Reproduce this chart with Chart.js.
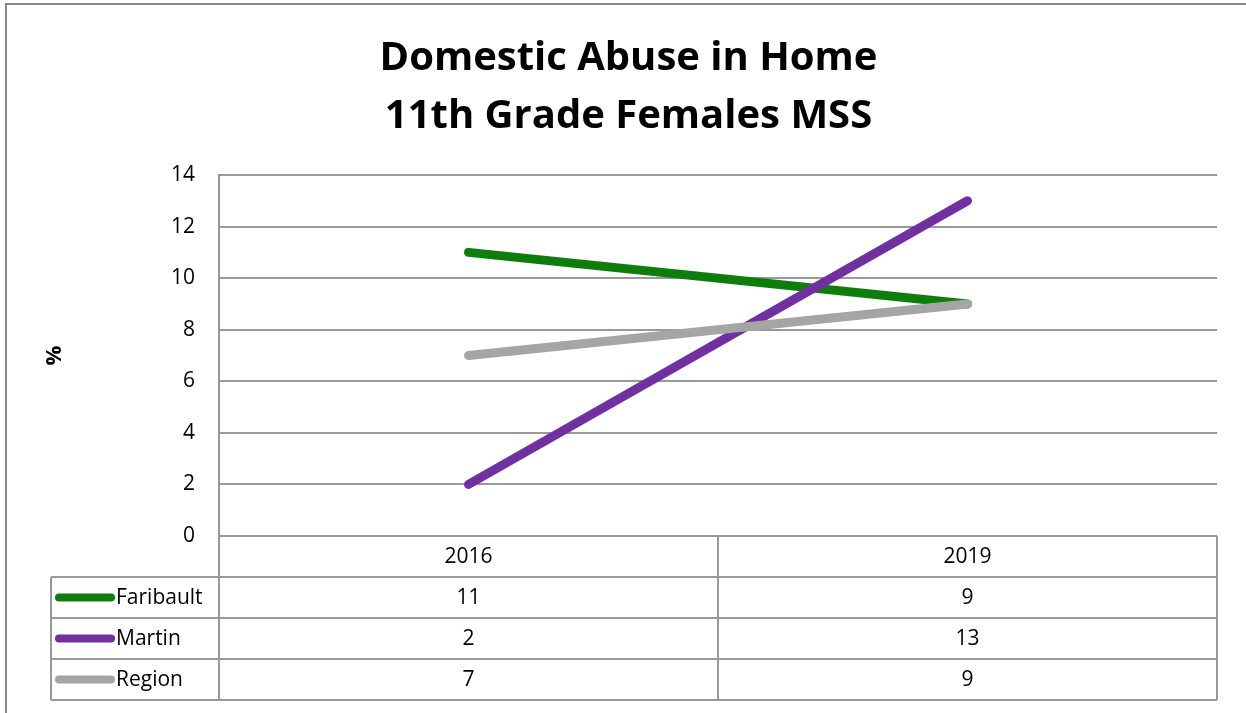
<!DOCTYPE html>
<html>
<head>
<meta charset="utf-8">
<script src="https://cdn.jsdelivr.net/npm/chart.js@4.4.1/dist/chart.umd.min.js"></script>
<style>
  html, body { margin: 0; padding: 0; background: #fff; }
  #wrap { width: 1246px; height: 713px; }
</style>
</head>
<body>
<div id="wrap"><canvas id="myChart" width="1246" height="713"></canvas></div>
<script>
// data
const years = ['2016', '2019'];
const faribault = [11, 9];
const martin = [2, 13];
const region = [7, 9];
const seriesNames = ['Faribault', 'Martin', 'Region'];
const seriesColors = ['#0E7D0E', '#7030A0', '#A5A5A5'];
const yTicks = [0, 2, 4, 6, 8, 10, 12, 14];

const fontFam = "'Open Sans', Lato, sans-serif";
const gridColor = '#999999';

//data table under the plot, drawn against the x scale
const tablePlugin = {
  id: 'dataTable',
  afterDraw(chart) {
    const ctx = chart.ctx;
    const a = chart.chartArea;
    const x = chart.scales.x;
    const rowH = 41;
    const top = a.bottom;
    const headBottom = top + rowH;
    const bottom = headBottom + rowH * seriesNames.length;
    const legLeft = 51;
    const colW = a.width / years.length;
    const allData = [faribault, martin, region];

    ctx.save();
    ctx.strokeStyle = gridColor;
    ctx.lineWidth = 2;
    ctx.beginPath();
    // horizontal rules
    ctx.moveTo(a.left, top); ctx.lineTo(a.right, top);
    for (let r = 0; r <= seriesNames.length; r++) {
      let yy = headBottom + r * rowH;
      ctx.moveTo(legLeft, yy); ctx.lineTo(a.right, yy);
    }
    // vertical rules
    ctx.moveTo(legLeft, headBottom); ctx.lineTo(legLeft, bottom);
    for (let c = 0; c <= years.length; c++) {
      let xx = a.left + c * colW;
      ctx.moveTo(xx, c === 0 ? a.top : top); ctx.lineTo(xx, bottom);
    }
    ctx.stroke();

    // outer chart border
    ctx.strokeStyle = '#888888';
    ctx.strokeRect(6, 4, 1300, 800);

    ctx.fillStyle = '#000';
    ctx.font = '21px ' + fontFam;
    ctx.textBaseline = 'middle';
    ctx.textAlign = 'center';
    years.forEach(function(yr, i) {
      ctx.fillText(yr, x.getPixelForValue(i), top + rowH / 2 + 1);
    });

    seriesNames.forEach(function(name, r) {
      let cy = headBottom + r * rowH + rowH / 2;
      ctx.strokeStyle = seriesColors[r];
      ctx.lineWidth = 8;
      ctx.lineCap = 'round';
      ctx.beginPath();
      ctx.moveTo(59, cy); ctx.lineTo(111, cy);
      ctx.stroke();
      ctx.textAlign = 'left';
      ctx.fillText(name, 116, cy + 1);
      ctx.textAlign = 'center';
      allData[r].forEach(function(v, i) {
        ctx.fillText(String(v), x.getPixelForValue(i), cy + 1);
      });
    });
    ctx.restore();
  }
};

let ctx = document.getElementById('myChart');

let myLineChart = new Chart(ctx, {
  type: 'line',
  data: {
    labels: years,
    datasets: [
      { label: seriesNames[0], data: faribault, borderColor: seriesColors[0], order: 2 },
      { label: seriesNames[1], data: martin, borderColor: seriesColors[1], order: 1 },
      { label: seriesNames[2], data: region, borderColor: seriesColors[2], order: 0 }
    ]
  },
  options: {
    responsive: false,
    animation: false,
    devicePixelRatio: 1,
    layout: { padding: { left: 40, right: 29, top: 0, bottom: 177 } },
    elements: {
      line: { borderWidth: 9, borderCapStyle: 'round', tension: 0, fill: false },
      point: { radius: 0, hoverRadius: 0 }
    },
    plugins: {
      legend: { display: false },
      tooltip: { enabled: false },
      title: {
        display: true,
        text: ['Domestic Abuse in Home', '11th Grade Females MSS'],
        color: '#000',
        font: { family: fontFam, size: 40, weight: 'bold', lineHeight: 1.45 },
        padding: { top: 30, bottom: 29 }
      }
    },
    scales: {
      x: {
        type: 'category',
        offset: true,
        display: false
      },
      y: {
        min: 0,
        max: 14,
        afterFit: function(scale) { scale.width = 179; },
        afterBuildTicks: function(scale) {
          scale.ticks = yTicks.map(function(v) { return { value: v }; });
        },
        grid: { color: gridColor, lineWidth: 2, drawTicks: false },
        border: { display: true, color: gridColor, width: 2 },
        ticks: {
          color: '#000',
          padding: 24,
          font: { family: fontFam, size: 21 }
        },
        title: {
          display: true,
          text: '%',
          color: '#000',
          font: { family: fontFam, size: 22, weight: 'bold' },
          padding: { top: 2, bottom: 4 }
        }
      }
    }
  },
  plugins: [tablePlugin]
});
</script>
</body>
</html>
